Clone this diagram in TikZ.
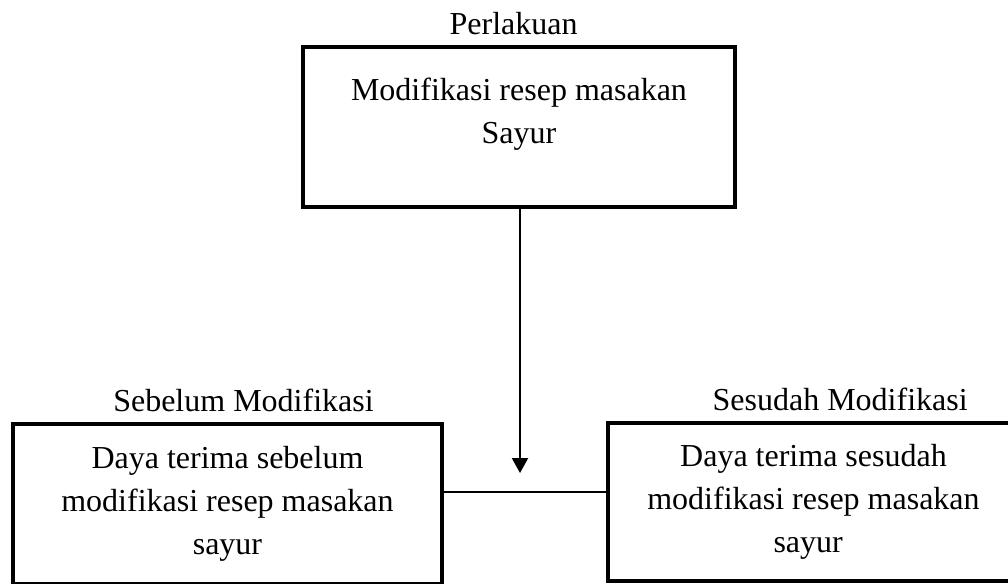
\documentclass[tikz,border=0pt]{standalone}
\usepackage{fontspec}
\setmainfont[Ligatures={NoCommon}]{Liberation Serif}
\usetikzlibrary{arrows.meta,positioning}

\begin{document}
\begin{tikzpicture}[x=0.375pt,y=-0.375pt,>={Triangle[width=6pt,length=5.6pt]},node distance=2pt,font=\fontsize{12}{16}\selectfont]
  \tikzstyle{box}=[draw=black,line width=1.5pt,align=center,inner sep=0pt]
  \tikzstyle{head}=[inner sep=0pt]
  \useasboundingbox (0,0) rectangle (1008,584);

  \node[box,minimum width=162pt,minimum height=60pt] (modif) at (519,127) {Modifikasi resep masakan\\Sayur\\[-4pt]\mbox{}};
  \node[box,minimum width=161pt,minimum height=60pt] (before) at (227.5,504) {Daya terima sebelum\\modifikasi resep masakan\\sayur};
  \node[box,minimum width=154pt,minimum height=59.6pt] (after) at (813.5,502) {Daya terima sesudah\\modifikasi resep masakan\\sayur\hspace*{4pt}};

  \node[head] (perlakuan) [above=3.5pt of modif,xshift=-2pt] {Perlakuan};
  \node[head] (sebelum) [above=3.5pt of before,xshift=6pt] {Sebelum Modifikasi};
  \node[head] (sesudah) [above=3.5pt of after,xshift=10pt] {Sesudah Modifikasi};

  \coordinate (tip) at (520,473);
  \draw[->,line width=0.7pt] (modif.south -| tip) -- (tip);
  \draw[line width=0.6pt] ([yshift=4.5pt]before.east) -- ([yshift=4.5pt]before.east -| after.west);

\end{tikzpicture}
\end{document}
